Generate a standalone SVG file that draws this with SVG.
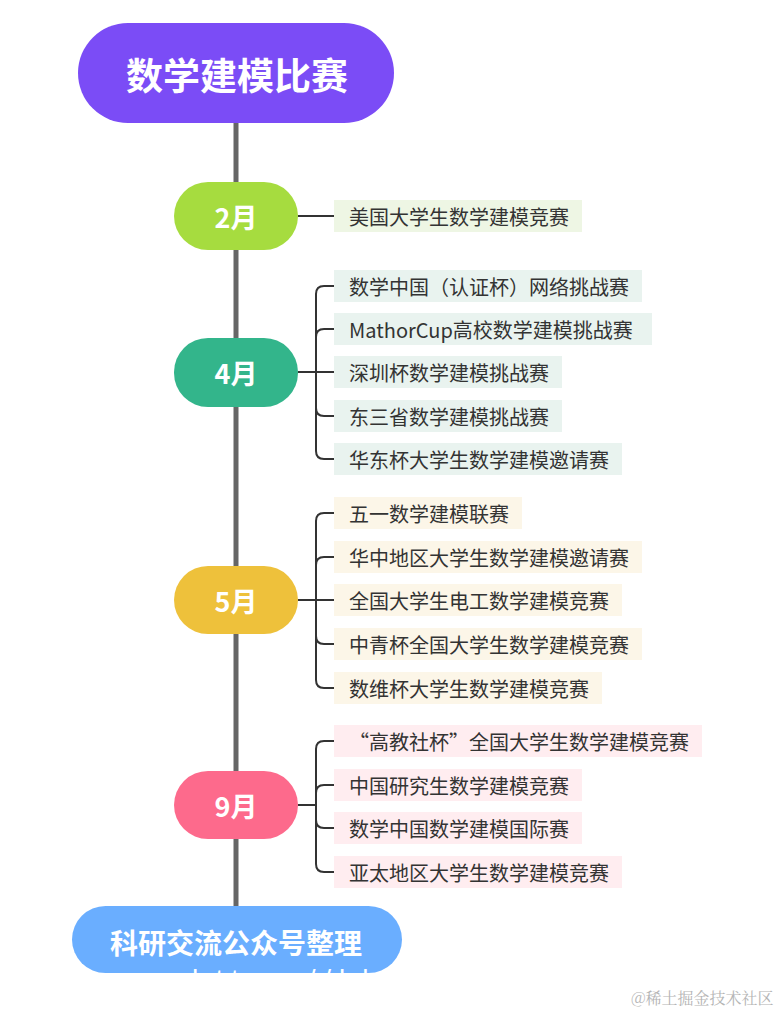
<svg xmlns="http://www.w3.org/2000/svg" width="782" height="1014" viewBox="0 0 782 1014">
<style>
text{font-family:"Noto Sans CJK SC","Noto Sans",sans-serif}
.main{fill:#fff;font-weight:bold;text-anchor:middle;dominant-baseline:central}
.mon{font-size:27px}
.lbl{font-size:20px;fill:#333;dominant-baseline:central}
.c{fill:none;stroke:#333;stroke-width:2}
.g2{fill:#eef6e4}.g4{fill:#e9f3ef}.g5{fill:#fcf6e8}.g9{fill:#ffedf0}
</style>
<defs>
<clipPath id="srcclip"><rect x="72" y="906" width="330" height="67" rx="33.5"/></clipPath>
</defs>
<rect width="782" height="1014" fill="#fff"/>
<line x1="236" y1="120" x2="236" y2="910" stroke="#666" stroke-width="5"/>
<g id="connectors">
<path class="c" d="M298 216H334"/>
<path class="c" d="M298 372H316V294Q316 286 324 286H334"/>
<path class="c" d="M298 372H316V337Q316 329 324 329H334"/>
<path class="c" d="M298 372H334"/>
<path class="c" d="M298 372H316V408Q316 416 324 416H334"/>
<path class="c" d="M298 372H316V451Q316 459 324 459H334"/>
<path class="c" d="M298 600H316V521Q316 513 324 513H334"/>
<path class="c" d="M298 600H316V565Q316 557 324 557H334"/>
<path class="c" d="M298 600H334"/>
<path class="c" d="M298 600H316V636Q316 644 324 644H334"/>
<path class="c" d="M298 600H316V680Q316 688 324 688H334"/>
<path class="c" d="M298 805H316V749Q316 741 324 741H334"/>
<path class="c" d="M298 805H316V793Q316 785 324 785H334"/>
<path class="c" d="M298 805H316V820Q316 828 324 828H334"/>
<path class="c" d="M298 805H316V864Q316 872 324 872H334"/>
</g>
<g id="title">
<rect x="78" y="23" width="316" height="100" rx="50" fill="#7b4cf6"/>
<text class="main" x="237" y="74" font-size="37">数学建模比赛</text>
</g>
<g id="m2">
<rect x="174" y="182" width="124" height="68" rx="34" fill="#a6dc3f"/>
<text class="main mon" x="236" y="216">2月</text>
</g>
<g id="m4">
<rect x="174" y="338" width="124" height="69" rx="34" fill="#33b58b"/>
<text class="main mon" x="236" y="372">4月</text>
</g>
<g id="m5">
<rect x="174" y="566" width="124" height="68" rx="34" fill="#eec13b"/>
<text class="main mon" x="236" y="600">5月</text>
</g>
<g id="m9">
<rect x="174" y="771" width="124" height="68" rx="34" fill="#fd6a8c"/>
<text class="main mon" x="236" y="805">9月</text>
</g>
<g id="source">
<rect x="72" y="906" width="330" height="67" rx="33.5" fill="#6aaeff"/>
<text class="main" x="236" y="942" font-size="28">科研交流公众号整理</text>
<text x="192" y="989" font-size="28" fill="#fff" clip-path="url(#srcclip)" style="font-family:'Liberation Sans',sans-serif" textLength="200" lengthAdjust="spacing">https://blo</text>
</g>
<g id="l2a"><rect class="g2" x="334" y="200" width="248" height="32"/><text class="lbl" x="349" y="216">美国大学生数学建模竞赛</text></g>
<g id="l4a"><rect class="g4" x="334" y="270" width="308" height="32"/><text class="lbl" x="349" y="286">数学中国（认证杯）网络挑战赛</text></g>
<g id="l4b"><rect class="g4" x="334" y="313" width="318" height="32"/><text class="lbl" x="349" y="329">MathorCup高校数学建模挑战赛</text></g>
<g id="l4c"><rect class="g4" x="334" y="356" width="228" height="32"/><text class="lbl" x="349" y="372">深圳杯数学建模挑战赛</text></g>
<g id="l4d"><rect class="g4" x="334" y="400" width="228" height="32"/><text class="lbl" x="349" y="416">东三省数学建模挑战赛</text></g>
<g id="l4e"><rect class="g4" x="334" y="443" width="288" height="32"/><text class="lbl" x="349" y="459">华东杯大学生数学建模邀请赛</text></g>
<g id="l5a"><rect class="g5" x="334" y="497" width="188" height="32"/><text class="lbl" x="349" y="513">五一数学建模联赛</text></g>
<g id="l5b"><rect class="g5" x="334" y="541" width="308" height="32"/><text class="lbl" x="349" y="557">华中地区大学生数学建模邀请赛</text></g>
<g id="l5c"><rect class="g5" x="334" y="584" width="288" height="32"/><text class="lbl" x="349" y="600">全国大学生电工数学建模竞赛</text></g>
<g id="l5d"><rect class="g5" x="334" y="628" width="308" height="32"/><text class="lbl" x="349" y="644">中青杯全国大学生数学建模竞赛</text></g>
<g id="l5e"><rect class="g5" x="334" y="672" width="268" height="32"/><text class="lbl" x="349" y="688">数维杯大学生数学建模竞赛</text></g>
<g id="l9a"><rect class="g9" x="334" y="725" width="368" height="32"/><text class="lbl" x="349" y="741">“高教社杯”全国大学生数学建模竞赛</text></g>
<g id="l9b"><rect class="g9" x="334" y="769" width="248" height="32"/><text class="lbl" x="349" y="785">中国研究生数学建模竞赛</text></g>
<g id="l9c"><rect class="g9" x="334" y="812" width="248" height="32"/><text class="lbl" x="349" y="828">数学中国数学建模国际赛</text></g>
<g id="l9d"><rect class="g9" x="334" y="856" width="288" height="32"/><text class="lbl" x="349" y="872">亚太地区大学生数学建模竞赛</text></g>
<text x="631" y="1004" font-size="16" fill="#b5b5b5" style="font-family:'Noto Serif CJK SC','Noto Sans CJK SC',serif">@稀土掘金技术社区</text>
</svg>
